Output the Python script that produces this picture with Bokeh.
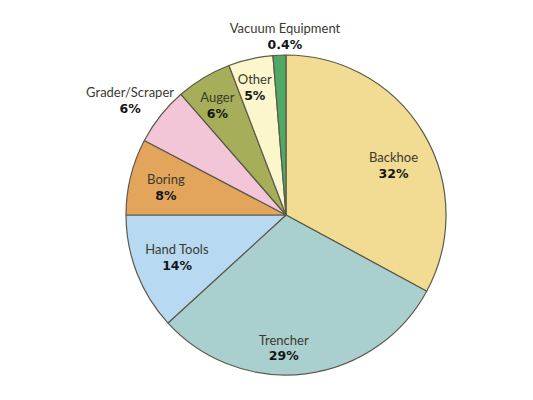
import math
from bokeh.plotting import figure
from bokeh.models import ColumnDataSource, Range1d
from bokeh.core.properties import value
from bokeh.embed import file_html
from bokeh.resources import INLINE

# ---- data (slice shares as drawn, and the printed percentage labels) ----
categories = ["Backhoe", "Trencher", "Hand Tools", "Boring", "Grader/Scraper", "Auger", "Other", "Vacuum Equipment"]
shares = [32.9, 30.3, 11.8, 7.7, 5.9, 5.6, 4.5, 1.3]
pct_labels = ["32%", "29%", "14%", "8%", "6%", "6%", "5%", "0.4%"]

# ---- styles ----
colors = ["#F2DC93", "#A9D0CF", "#B7DAF2", "#E3A55C", "#F2C6D7", "#A6AE5A", "#FBF6CC", "#4FA864"]
label_radius = [0.74, 0.83, 0.73, 0.77, 1.21, 0.81, 0.82, 1.12]
label_angle_shift = [6, 8, 0, -1, -2, -1, -1, 2]

W, H = 517, 384
CX, CY = 285.5, H - 214.5
R = 160

total = sum(shares)
starts, ends, mids = [], [], []
cum = 0.0
for s in shares:
    a0 = cum / total
    cum += s
    a1 = cum / total
    # clockwise from 12 o'clock -> bokeh angles (counterclockwise from +x)
    starts.append(math.pi / 2 - 2 * math.pi * a1)
    ends.append(math.pi / 2 - 2 * math.pi * a0)
    mids.append((a0 + a1) / 2 * 360)

src = ColumnDataSource(dict(cat=categories, start=starts, end=ends, color=colors))

p = figure(width=W, height=H, output_backend="svg", toolbar_location=None,
           x_range=Range1d(0, W), y_range=Range1d(0, H), min_border=0)
p.axis.visible = False
p.grid.visible = False
p.outline_line_color = None
p.background_fill_color = "white"
p.border_fill_color = "white"

p.wedge(x=CX, y=CY, radius=R, start_angle="start", end_angle="end", source=src,
        fill_color="color", line_color="#5b5a4a", line_width=1.2)

lx, ly_name, ly_pct = [], [], []
for i, m in enumerate(mids):
    th = math.radians(m + label_angle_shift[i])
    r = R * label_radius[i]
    x = CX + r * math.sin(th)
    y = CY + r * math.cos(th)
    lx.append(x)
    ly_name.append(y + 8.2)
    ly_pct.append(y - 8.2)

lsrc = ColumnDataSource(dict(x=lx, yn=ly_name, yp=ly_pct, name=categories, pct=pct_labels))
p.text(x="x", y="yn", text="name", source=lsrc, text_align="center", text_baseline="middle",
       text_font=value("Lato"), text_font_size="13px", text_color="#3a3a30")
p.text(x="x", y="yp", text="pct", source=lsrc, text_align="center", text_baseline="middle",
       text_font=value("DejaVu Sans"), text_font_style="bold", text_font_size="12.5px", text_color="#151515")

open("out.html", "w").write(file_html(p, INLINE))
